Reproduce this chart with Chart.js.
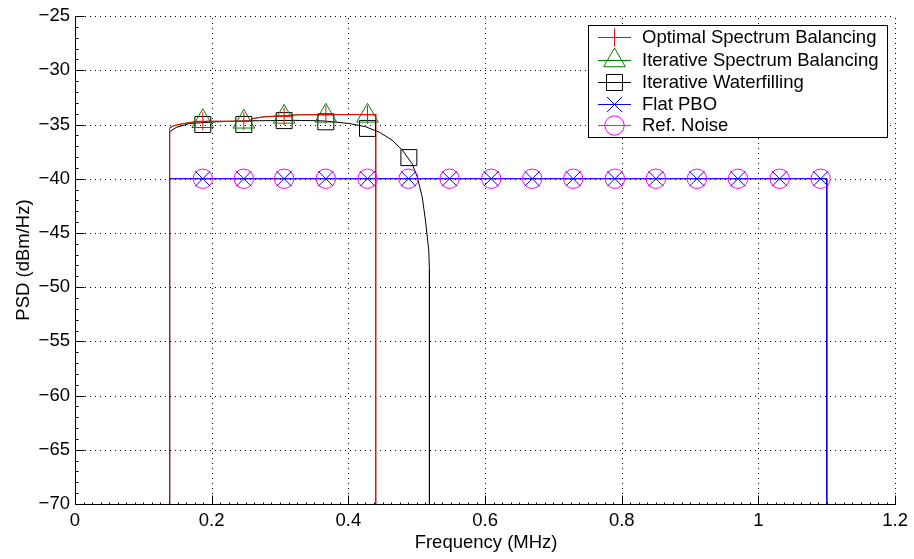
<!DOCTYPE html>
<html><head><meta charset="utf-8">
<script src="https://cdn.jsdelivr.net/npm/chart.js@4.4.0/dist/chart.umd.min.js"></script>
<style>html,body{margin:0;padding:0;background:#fff}</style>
</head><body>
<canvas id="c" width="914" height="559"></canvas>
<script>
// ---------- data ----------
const xTicks = [0, 0.2, 0.4, 0.6, 0.8, 1, 1.2];
const yTicks = [-70, -65, -60, -55, -50, -45, -40, -35, -30, -25];

const seriesNames = ['Optimal Spectrum Balancing', 'Iterative Spectrum Balancing', 'Iterative Waterfilling', 'Flat PBO', 'Ref. Noise'];

// Optimal Spectrum Balancing (red)
const osbFreq = [0.1385, 0.1385, 0.145, 0.16, 0.175, 0.2, 0.255, 0.26, 0.275, 0.3, 0.33, 0.44, 0.44];
const osbPsd  = [-70, -35.3, -35.1, -34.9, -34.75, -34.7, -34.7, -34.45, -34.3, -34.2, -34.1, -34.07, -70];
const osbMarkFreq = [0.187, 0.247, 0.306, 0.367, 0.428];
const osbMarkPsd  = [-34.7, -34.7, -34.25, -34.1, -34.1];

// Iterative Spectrum Balancing (green) - hidden under the red curve
const isbFreq = [0.1385, 0.145, 0.16, 0.175, 0.2, 0.255, 0.26, 0.275, 0.3, 0.33, 0.44];
const isbPsd  = [-35.3, -35.1, -34.9, -34.75, -34.7, -34.7, -34.45, -34.3, -34.2, -34.1, -34.07];
const isbMarkFreq = [0.187, 0.247, 0.306, 0.367, 0.428];
const isbMarkPsd  = [-34.7, -34.75, -34.3, -34.2, -34.2];

// Iterative Waterfilling (black)
const iwfFreq = [0.1385, 0.1385, 0.148, 0.168, 0.207, 0.255, 0.323, 0.362, 0.401, 0.425, 0.445, 0.464, 0.479, 0.493, 0.5006, 0.508, 0.5127, 0.5176, 0.5186, 0.5186];
const iwfPsd  = [-70, -35.67, -35.27, -34.9, -34.75, -34.66, -34.62, -34.66, -34.9, -35.2, -35.7, -36.44, -37.36, -38.59, -39.8, -41.67, -43.8, -46.6, -48.4, -70];
const iwfMarkFreq = [0.187, 0.247, 0.306, 0.367, 0.428, 0.4885];
const iwfMarkPsd  = [-35.0, -35.0, -34.64, -34.75, -35.36, -38.05];

// Flat PBO (blue)
const pboFreq = [0.1385, 0.1385, 1.1, 1.1];
const pboPsd  = [-70, -40, -40, -70];
// Ref. Noise (magenta)
const noiseFreq = [0.1385, 1.1];
const noisePsd  = [-40, -40];
// shared marker positions on the -40 level
const flatMarkFreq = [0.187, 0.247, 0.306, 0.367, 0.428, 0.488, 0.548, 0.609, 0.669, 0.729, 0.790, 0.850, 0.910, 0.970, 1.031, 1.091];
const flatMarkPsd  = [-40, -40, -40, -40, -40, -40, -40, -40, -40, -40, -40, -40, -40, -40, -40, -40];

// ---------- styling ----------
const FONT = '"Liberation Sans", Arial, Helvetica, sans-serif';
const FS = 18.5;
const RED = '#ff0000', GREEN = '#008000', BLACK = '#000000', BLUE = '#0000ff', MAGENTA = '#ff00ff';
const markerSpec = [
  {style: 'cross', r: 9, color: RED},
  {style: 'triangle', r: 12.5, color: GREEN},
  {style: 'rect', r: 11.3, color: BLACK},
  {style: 'crossRot', r: 10.6, color: BLUE},
  {style: 'circle', r: 9.7, color: MAGENTA}
];

const pts = (xs, ys) => xs.map((x, i) => ({x: x, y: ys[i]}));
function lineDs(xs, ys, color, order) {
  return {data: pts(xs, ys), showLine: true, borderColor: color, borderWidth: 1, pointRadius: 0,
          pointHoverRadius: 0, fill: false, tension: 0, order: order};
}
function markDs(xs, ys, spec, order) {
  return {data: pts(xs, ys), showLine: false, pointStyle: spec.style, pointRadius: spec.r,
          pointHoverRadius: spec.r, pointBorderColor: spec.color, pointBackgroundColor: 'rgba(0,0,0,0)',
          pointBorderWidth: 1, order: order};
}

const datasets = [
  markDs(osbMarkFreq, osbMarkPsd, markerSpec[0], 1),
  markDs(isbMarkFreq, isbMarkPsd, markerSpec[1], 2),
  markDs(iwfMarkFreq, iwfMarkPsd, markerSpec[2], 3),
  markDs(flatMarkFreq, flatMarkPsd, markerSpec[3], 4),
  markDs(flatMarkFreq, flatMarkPsd, markerSpec[4], 5),
  lineDs(osbFreq, osbPsd, RED, 6),
  lineDs(isbFreq, isbPsd, GREEN, 7),
  lineDs(iwfFreq, iwfPsd, BLACK, 8),
  lineDs(pboFreq, pboPsd, BLUE, 9),
  lineDs(noiseFreq, noisePsd, MAGENTA, 10)
];

const fmt = v => {
  const n = Math.round(v * 100) / 100;
  return n < 0 ? '\u2212' + Math.abs(n) : String(n);
};

function seg(ctx, x1, y1, x2, y2) { ctx.beginPath(); ctx.moveTo(x1, y1); ctx.lineTo(x2, y2); ctx.stroke(); }

const decor = {
  id: 'decor',
  beforeDatasetsDraw(chart) {
    const {ctx, chartArea: a, scales: {x, y}} = chart;
    ctx.save();
    ctx.strokeStyle = '#000';
    ctx.lineWidth = 1;
    ctx.setLineDash([1, 4]);
    xTicks.forEach(t => {
      if (t === xTicks[0]) return;
      const px = Math.round(x.getPixelForValue(t)) + 0.5;
      seg(ctx, px, a.bottom, px, a.top);
    });
    yTicks.forEach(t => {
      if (t === yTicks[0]) return;
      const py = Math.round(y.getPixelForValue(t)) + 0.5;
      seg(ctx, a.left, py, a.right, py);
    });
    ctx.restore();
  },
  afterDraw(chart) {
    const {ctx, chartArea: a, scales: {x, y}} = chart;
    ctx.save();
    ctx.strokeStyle = '#000';
    ctx.lineWidth = 1;
    const L = Math.round(a.left) + 0.5, B = Math.round(a.bottom) + 0.5;
    // axis lines
    seg(ctx, L, Math.round(a.top), L, B);
    seg(ctx, L, B, Math.round(a.right) + 1, B);
    // major ticks (inward)
    xTicks.forEach(t => { const px = Math.round(x.getPixelForValue(t)) + 0.5; seg(ctx, px, B, px, B - 9); });
    yTicks.forEach(t => { const py = Math.round(y.getPixelForValue(t)) + 0.5; seg(ctx, L, py, L + 9, py); });
    // minor ticks
    for (let i = 1; i < 96; i++) {
      if (i % 16 === 0) continue;
      const px = Math.round(x.getPixelForValue(i * 0.0125)) + 0.5; seg(ctx, px, B, px, B - 2);
    }
    for (let v = -69; v < -25; v++) {
      if (v % 5 === 0) continue;
      const py = Math.round(y.getPixelForValue(v)) + 0.5; seg(ctx, L, py, L + 3, py);
    }
    // axis titles
    ctx.fillStyle = '#000';
    ctx.font = FS + 'px ' + FONT;
    ctx.textAlign = 'center';
    ctx.textBaseline = 'middle';
    ctx.fillText('Frequency (MHz)', (a.left + a.right) / 2 + 1, 543);
    ctx.save();
    ctx.translate(24, (a.top + a.bottom) / 2);
    ctx.rotate(-Math.PI / 2);
    ctx.fillText('PSD (dBm/Hz)', 0, 0);
    ctx.restore();
    // legend
    const bx = 588.5, by = 25.5, bw = 299, bh = 112;
    ctx.fillStyle = '#fff';
    ctx.fillRect(bx, by, bw, bh);
    ctx.strokeRect(bx, by, bw, bh);
    const rows = [37, 59.5, 81.5, 103.5, 125];
    const lineColors = [RED, GREEN, BLACK, BLUE, MAGENTA];
    seriesNames.forEach((name, i) => {
      const cy = rows[i];
      ctx.strokeStyle = lineColors[i];
      ctx.lineWidth = 1;
      seg(ctx, 598, Math.round(cy) + 0.5, 631, Math.round(cy) + 0.5);
      const s = markerSpec[i];
      ctx.fillStyle = 'rgba(0,0,0,0)';
      ctx.strokeStyle = s.color;
      Chart.helpers.drawPoint(ctx, {pointStyle: s.style, radius: s.r, rotation: 0, borderWidth: 1}, 614.5, Math.round(cy) + 0.5);
      ctx.fillStyle = '#000';
      ctx.textAlign = 'left';
      ctx.textBaseline = 'middle';
      ctx.font = FS + 'px ' + FONT;
      ctx.fillText(name, 642, cy + 1);
    });
    ctx.restore();
  }
};

new Chart(document.getElementById('c'), {
  type: 'scatter',
  data: {datasets: datasets},
  options: {
    responsive: false,
    animation: false,
    devicePixelRatio: 1,
    layout: {padding: {top: 15, right: 15, left: 0, bottom: 0}},
    plugins: {legend: {display: false}, tooltip: {enabled: false}},
    elements: {line: {borderWidth: 1}},
    scales: {
      x: {
        type: 'linear', min: 0, max: 1.2,
        afterBuildTicks: s => { s.ticks = xTicks.map(v => ({value: v})); },
        ticks: {color: '#000', font: {family: FONT, size: FS}, padding: 6, callback: fmt, maxRotation: 0, autoSkip: false},
        grid: {display: false, drawTicks: false},
        border: {display: false},
        afterFit: s => { s.height = 55; }
      },
      y: {
        type: 'linear', min: -70, max: -25,
        afterBuildTicks: s => { s.ticks = yTicks.map(v => ({value: v})); },
        ticks: {color: '#000', font: {family: FONT, size: FS}, padding: 5, callback: fmt, autoSkip: false},
        grid: {display: false, drawTicks: false},
        border: {display: false},
        afterFit: s => { s.width = 75; }
      }
    }
  },
  plugins: [decor]
});
</script>
</body></html>
